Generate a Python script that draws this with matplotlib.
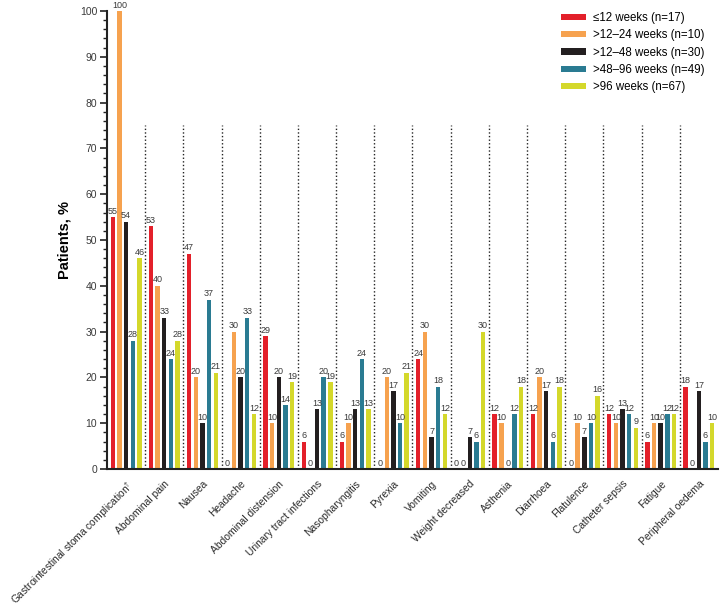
import matplotlib
matplotlib.use("Agg")
import matplotlib.pyplot as plt
import numpy as np
from matplotlib.ticker import MultipleLocator
from matplotlib.patches import Patch

plt.rcParams['font.family'] = ['Liberation Sans', 'DejaVu Sans']
plt.rcParams['mathtext.fontset'] = 'custom'
plt.rcParams['mathtext.rm'] = 'Liberation Sans'

categories = [
    "Gastrointestinal stoma complication$^{\\dagger}$", "Abdominal pain", "Nausea", "Headache",
    "Abdominal distension", "Urinary tract infections", "Nasopharyngitis", "Pyrexia",
    "Vomiting", "Weight decreased", "Asthenia", "Diarrhoea", "Flatulence",
    "Catheter sepsis", "Fatigue", "Peripheral oedema",
]
series_names = [
    "\u226412 weeks (n=17)", ">12\u201324 weeks (n=10)", ">12\u201348 weeks (n=30)",
    ">48\u201396 weeks (n=49)", ">96 weeks (n=67)",
]
wk_le12 = [55, 53, 47, 0, 29, 6, 6, 0, 24, 0, 12, 12, 0, 12, 6, 18]
wk_12_24 = [100, 40, 20, 30, 10, 0, 10, 20, 30, 0, 10, 20, 10, 10, 10, 0]
wk_12_48 = [54, 33, 10, 20, 20, 13, 13, 17, 7, 7, 0, 17, 7, 13, 10, 17]
wk_48_96 = [28, 24, 37, 33, 14, 20, 24, 10, 18, 6, 12, 6, 10, 12, 12, 6]
wk_gt96 = [46, 28, 21, 12, 19, 19, 13, 21, 12, 30, 18, 18, 16, 9, 12, 10]
series = [wk_le12, wk_12_24, wk_12_48, wk_48_96, wk_gt96]
colors = ["#e3202a", "#f6a24f", "#231f20", "#2a7b92", "#d4d82b"]

fig = plt.figure(figsize=(7.21, 6.11), dpi=100)
ax = fig.add_axes([0.1484, 0.2324, 0.8474, 0.7496])

x = np.arange(len(categories))
pitch = 0.174
width = 0.115
for i, (vals, c) in enumerate(zip(series, colors)):
    xs = x + (i - 2) * pitch
    ax.bar(xs, vals, width=width, color=c, edgecolor='none', zorder=2)
    for xi, v in zip(xs, vals):
        ax.text(xi, v + 0.3, f"{v}", ha='center', va='bottom', fontsize=6.5,
                color='#3a3a3a', clip_on=False)

for s in np.arange(0.5, len(categories) - 1, 1.0):
    ax.vlines(s, 0, 75, colors='#222222', linestyles=(0, (1, 1.6)), linewidth=1.0, zorder=1)

ax.set_xlim(-0.5, len(categories) - 0.5)
ax.set_ylim(0, 100)
ax.yaxis.set_major_locator(MultipleLocator(10))
ax.yaxis.set_minor_locator(MultipleLocator(2))
ax.tick_params(axis='y', which='major', length=5, width=1.2, labelsize=7.5, pad=2,
               color='#222222', labelcolor='#3a3a3a')
ax.tick_params(axis='y', which='minor', length=3, width=1.0, color='#222222')
ax.set_xticks(x)
ax.set_xticklabels(categories, rotation=45, ha='right', rotation_mode='anchor', fontsize=7.4,
                   color='#2a2a2a')
ax.tick_params(axis='x', length=0, pad=7)
for sp in ['top', 'right']:
    ax.spines[sp].set_visible(False)
for sp in ['left', 'bottom']:
    ax.spines[sp].set_linewidth(1.5)
    ax.spines[sp].set_color('#222222')

ax.set_ylabel("Patients, %", fontsize=10.5, fontweight='bold', labelpad=6)

handles = [Patch(facecolor=c, edgecolor='none') for c in colors]
ax.legend(handles, series_names, loc='upper right', bbox_to_anchor=(0.995, 1.02),
          frameon=False, fontsize=8.3, handlelength=2.2, handleheight=0.45,
          handletextpad=0.6, labelspacing=0.45)

fig.savefig("out.png", dpi=100)
